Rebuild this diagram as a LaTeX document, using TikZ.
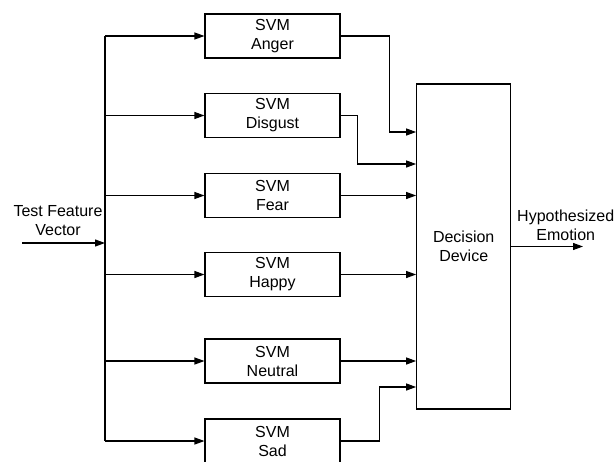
\documentclass[tikz,border=0pt]{standalone}
\usepackage{fontspec}
\setmainfont{Liberation Sans}
\usetikzlibrary{positioning,arrows.meta}

\begin{document}
\begin{tikzpicture}[x=1pt,y=-1pt,line width=1.1pt,>={Triangle[length=10pt,width=7pt]},
  font=\fontsize{16}{19}\selectfont,
  svm/.style={draw,align=center,minimum width=135pt,minimum height=44pt,inner sep=0pt},
  device/.style={draw,align=center,minimum width=94pt,minimum height=325pt,inner sep=0pt},
  lbl/.style={align=center,inner sep=0pt}]
  \useasboundingbox (0,0) rectangle (615,461);
  % classifiers
  \node[svm] (anger) at (272.5,36) {SVM\\Anger};
  \node[svm] (disgust) at (272.5,115.5) {SVM\\Disgust};
  \node[svm] (fear) at (272.5,195.5) {SVM\\Fear};
  \node[svm] (happy) at (272.5,274.5) {SVM\\Happy};
  \node[svm] (neutral) at (272.5,361) {SVM\\Neutral};
  \node[svm] (sad) at (272.5,441) {SVM\\Sad};
  \node[device] (dec) at (463.7,246.5) {Decision\\Device};
  % input and bus
  \node[lbl] (test) at (58,221) {Test Feature\\Vector};
  \coordinate (src) at (22,243);
  \coordinate (bustop) at (105,36);
  \coordinate (busbot) at (105,441);
  \draw (bustop) -- (busbot);
  \draw[->] (src) -- (src -| bustop);
  \draw[->] (bustop) -- (anger.west);
  \draw[->] (bustop |- disgust.west) -- (disgust.west);
  \draw[->] (bustop |- fear.west) -- (fear.west);
  \draw[->] (bustop |- happy.west) -- (happy.west);
  \draw[->] (bustop |- neutral.west) -- (neutral.west);
  \draw[->] (busbot) -- (sad.west);
  % into the decision device
  \coordinate (d1) at (dec.west |- 0,132);
  \coordinate (d2) at (dec.west |- 0,164);
  \coordinate (d6) at (dec.west |- 0,387);
  \draw[->] (anger.east) -| ([xshift=-27pt]d1) -- (d1);
  \draw[->] (disgust.east) -| ([xshift=-59pt]d2) -- (d2);
  \draw[->] (fear.east) -- (dec.west |- fear.east);
  \draw[->] (happy.east) -- (dec.west |- happy.east);
  \draw[->] (neutral.east) -- (dec.west |- neutral.east);
  \draw[->] (sad.east) -| ([xshift=-37pt]d6) -- (d6);
  % output
  \coordinate (outend) at (583,246.5);
  \draw[->] (dec.east) -- (outend);
  \node[lbl] (hyp) at (565.7,225.5) {Hypothesized\\Emotion};
\end{tikzpicture}
\end{document}
